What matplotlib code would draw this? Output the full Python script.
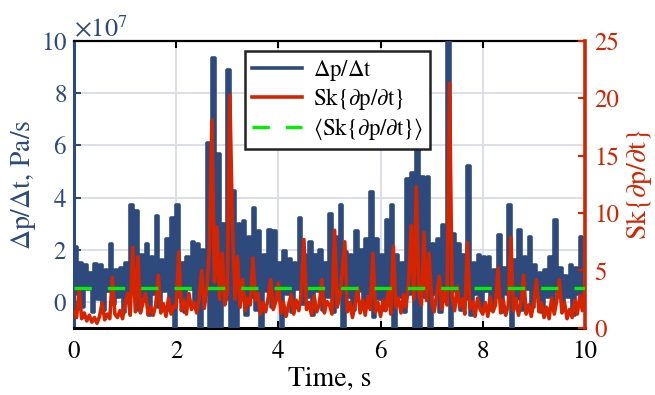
import matplotlib
matplotlib.use('Agg')
import matplotlib.pyplot as plt
import numpy as np

# dp/dt, units of 1e7 Pa/s: peak and trough of each 0.1 s step
blue_hi = [2.1, 1.5, 1.4, 1.1, 1.45, 1.4, 1.2, 2.2, 1.2, 1.3,
           1.5, 3.7, 3.5, 1.8, 2.2, 1.7, 3.3, 1.6, 2.4, 3.2,
           3.7, 1.5, 1.7, 2.3, 2.2, 2.0, 6.1, 9.35, 5.65, 3.0,
           8.9, 4.24, 3.0, 3.1, 2.5, 3.6, 2.7, 1.8, 2.75, 2.7,
           1.5, 1.95, 1.65, 1.5, 3.2, 1.8, 2.3, 1.8, 2.0, 1.5,
           3.35, 2.5, 3.7, 1.9, 1.8, 2.7, 2.0, 2.4, 4.2, 2.4,
           1.8, 3.15, 3.7, 1.8, 1.5, 4.7, 4.95, 6.3, 4.8, 4.8,
           2.2, 2.4, 2.96, 10.5, 2.6, 2.2, 1.8, 5.2, 1.5, 1.8,
           1.7, 1.7, 1.2, 2.58, 1.3, 3.7, 1.6, 2.77, 1.7, 2.5,
           1.4, 1.1, 1.2, 1.7, 3.15, 1.3, 1.0, 1.4, 1.3, 2.5]
blue_lo = [0.3, -0.2, 0.5, -0.4, 0.1, -0.3, 0.4, -0.1, 0.2, -0.4,
           0.0, 0.6, -0.3, 0.2, -0.5, 0.3, -0.2, 0.4, -0.3, -1.2,
           0.2, -0.4, 0.5, -0.2, -1.2, 0.3, -1.2, -1.2, -1.2, 0.1,
           -1.2, -1.2, 0.3, -0.5, 0.2, -0.3, -1.2, 0.4, -0.2, 0.1,
           -1.2, 0.3, -0.4, 0.5, -0.1, 0.2, -0.5, 0.4, -0.3, 0.2,
           -0.4, 0.5, -1.2, 0.2, -0.3, 0.4, -0.2, 0.3, -0.6, 0.1,
           -0.3, 0.4, -1.2, 0.2, -0.4, 0.3, -1.2, -1.2, 0.2, -1.2,
           0.3, -0.4, 0.2, -1.2, 0.4, -0.3, 0.1, -0.5, 0.3, -0.2,
           0.4, -0.3, 0.2, -0.4, 0.3, -1.2, 0.1, -0.3, 0.5, -0.2,
           0.3, -0.4, 0.2, -0.1, 0.4, -0.3, 0.2, -0.5, 0.3, 0.1]

# skewness, sampled every 0.05 s from 0 to 10 s
sk = [1.4, 0.9, 3.3, 0.8, 1.3, 0.6, 1.1, 0.5, 0.9, 0.4, 1.0, 2.2, 0.7, 1.2, 0.8, 4.4, 1.2, 0.9, 1.5, 0.8,
      2.2, 3.0, 1.1, 7.0, 1.4, 6.2, 1.3, 2.2, 3.0, 1.2, 1.8, 1.1, 2.0, 4.6, 1.3, 2.1, 1.0, 2.6, 1.2, 1.9,
      1.8, 6.6, 1.5, 2.4, 1.2, 3.0, 1.6, 2.2, 1.3, 2.6, 5.0, 1.7, 3.4, 7.0, 18.1, 4.0, 8.8, 2.5, 6.5, 2.0,
      3.0, 20.3, 9.0, 2.5, 6.2, 1.8, 4.2, 1.5, 2.6, 2.0, 6.1, 2.4, 3.0, 1.2, 2.2, 1.4, 2.6, 4.2, 1.6, 2.3,
      3.9, 1.3, 2.2, 1.0, 2.0, 2.9, 1.2, 2.4, 1.5, 3.0, 7.7, 1.6, 2.2, 1.1, 2.8, 1.4, 2.0, 4.2, 1.3, 2.3,
      2.0, 1.2, 8.5, 1.8, 2.6, 4.8, 7.5, 1.4, 2.2, 0.9, 2.0, 3.5, 1.3, 2.4, 1.1, 2.7, 1.6, 6.5, 1.4, 2.2,
      1.0, 2.4, 1.5, 3.2, 1.2, 7.1, 1.8, 2.6, 1.3, 2.9, 1.8, 4.0, 8.9, 2.5, 12.3, 3.0, 2.0, 8.3, 2.4, 6.5,
      2.2, 1.4, 3.0, 4.5, 1.6, 3.2, 2.0, 21.3, 2.8, 1.5, 3.6, 1.8, 2.5, 1.2, 7.4, 1.7, 2.3, 1.0, 2.6, 1.6,
      1.2, 2.2, 1.0, 2.7, 1.4, 2.0, 5.2, 1.3, 2.4, 1.1, 2.0, 7.9, 1.5, 2.6, 1.1, 2.2, 4.6, 1.2, 2.0, 1.0,
      2.3, 4.2, 1.4, 2.2, 0.9, 1.8, 0.8, 2.6, 1.2, 2.4, 4.2, 1.3, 2.2, 0.8, 1.6, 0.9, 2.4, 1.2, 2.8, 1.5,
      3.5]
sk_mean = 3.5

blue_c = '#2E4A7D'
red_c = '#D42400'
green_c = '#00F000'

plt.rcParams['font.family'] = ['STIXGeneral', 'DejaVu Serif']
plt.rcParams['mathtext.fontset'] = 'stix'
plt.rcParams['font.size'] = 18

t_blue = np.arange(2 * len(blue_hi) + 1) * 0.05
dp = np.column_stack([blue_hi, blue_lo]).ravel()
dp = np.append(dp, blue_lo[-1]) * 1e7
t_sk = np.arange(len(sk)) * 0.05

fig = plt.figure(figsize=(6.55, 3.95), dpi=100)
ax1 = fig.add_axes([0.113, 0.170, 0.780, 0.726])
ax2 = ax1.twinx()

l1, = ax1.plot(t_blue, dp, color=blue_c, lw=2.6, drawstyle='steps-post',
               label=r'$\Delta$p/$\Delta$t', zorder=3)
l2, = ax2.plot(t_sk, sk, color=red_c, lw=2.6, label=r'Sk$\{\partial$p/$\partial$t$\}$', zorder=3)
l3, = ax2.plot([0, 10], [sk_mean, sk_mean], color=green_c, lw=2.4, dashes=(5.2, 4.8),
               label=r'$\langle$Sk$\{\partial$p/$\partial$t$\}\rangle$', zorder=4)

ax1.set_xlim(0, 10)
ax1.set_ylim(-1e7, 10e7)
ax1.set_yticks(np.arange(0, 11e7, 2e7))
ax1.set_xticks([0, 2, 4, 6, 8, 10])
ax1.ticklabel_format(axis='y', style='sci', scilimits=(7, 7), useMathText=True)
ax2.set_ylim(0, 25)
ax2.set_yticks([0, 5, 10, 15, 20, 25])

ax1.grid(True, color='#DCE0E6', lw=1.4)
ax1.set_axisbelow(True)

ax1.tick_params(axis='y', direction='in', colors=blue_c, length=5, width=1.5, labelsize=18, pad=5)
ax1.tick_params(axis='x', direction='in', top=True, length=5, width=1.5, labelsize=18, pad=9)
ax2.tick_params(axis='y', direction='in', colors=red_c, length=5, width=1.5, labelsize=18, pad=7)
ax1.yaxis.get_offset_text().set_color(blue_c)
ax1.yaxis.get_offset_text().set_fontsize(19)

ax1.spines['left'].set_color(blue_c)
ax1.spines['left'].set_linewidth(2.2)
ax1.spines['bottom'].set_linewidth(2.2)
ax1.spines['top'].set_linewidth(1.6)
ax1.spines['right'].set_visible(False)
ax2.spines['left'].set_visible(False)
ax2.spines['top'].set_visible(False)
ax2.spines['bottom'].set_visible(False)
ax2.spines['right'].set_color(red_c)
ax2.spines['right'].set_linewidth(2.6)

ax1.set_xlabel('Time, s', fontsize=20, labelpad=1)
ax1.set_ylabel(r'$\Delta$p/$\Delta$t, Pa/s', color=blue_c, fontsize=20, labelpad=2)
ax2.set_ylabel(r'Sk$\{\partial$p/$\partial$t$\}$', color=red_c, fontsize=20, labelpad=3)

leg = ax2.legend(handles=[l1, l2, l3], loc='upper left', bbox_to_anchor=(0.335, 0.965),
                 fontsize=16.5, frameon=True, fancybox=False, framealpha=1,
                 handlelength=2.2, handletextpad=0.45, borderpad=0.3, labelspacing=0.15,
                 borderaxespad=0)
leg.get_frame().set_edgecolor('#222222')
leg.get_frame().set_linewidth(1.8)

fig.savefig('out.png', dpi=100, facecolor='white')
